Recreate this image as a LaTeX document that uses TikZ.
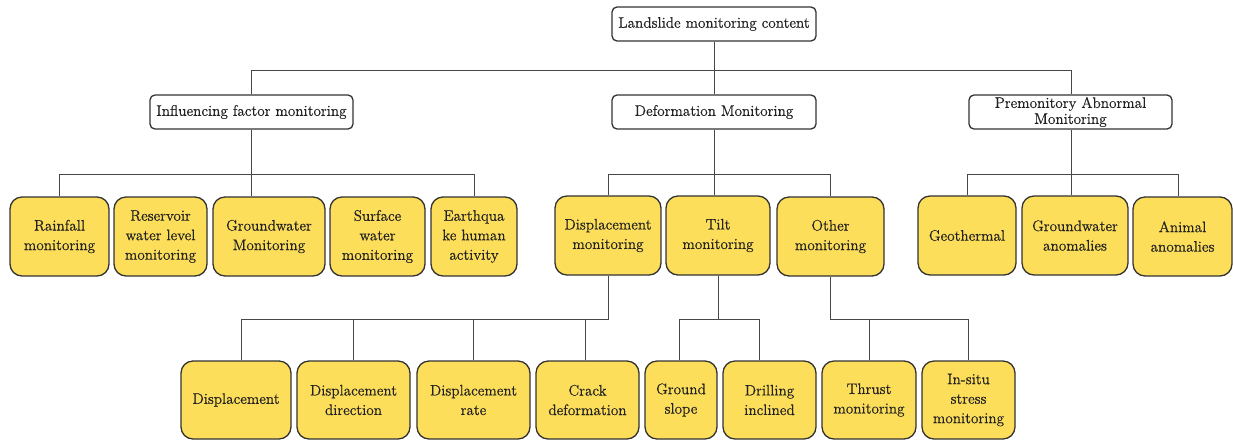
\documentclass[tikz,border=0pt]{standalone}
\usepackage{fontspec}
\newfontfamily\boxfont{lmroman12-regular.otf}[FakeBold=0.5]
\definecolor{yfill}{HTML}{FDDE5A}
\definecolor{bord}{HTML}{333333}
\definecolor{conncol}{HTML}{474747}
\definecolor{txt}{HTML}{222222}
\tikzset{
  basebox/.style={draw=bord, line width=1.3pt, align=center, inner sep=0pt, text=txt,
    font=\boxfont\fontsize{15.2}{19.5}\selectfont},
  wbox/.style={basebox, fill=white, rounded corners=5pt},
  ybox/.style={basebox, fill=yfill, rounded corners=12pt},
  link/.style={draw=conncol, line width=1.7pt}
}
\newcommand\bx[7]{%
  \node[#1, minimum width={#5-#3}, minimum height={#6-#4}] (#2) at ({(#3+#5)/2},{(#4+#6)/2}) {#7};}
\begin{document}
\begin{tikzpicture}[x=1pt,y=-1pt]
\useasboundingbox (0,0) rectangle (1233,440);
% level 0 and 1
\bx{wbox}{root}{612}{7}{816}{41}{Landslide monitoring content}
\bx{wbox}{inf}{150}{95}{353}{129}{Influencing factor monitoring}
\bx{wbox}{def}{612}{95}{816}{129}{Deformation Monitoring}
\bx{wbox,font=\boxfont\fontsize{15.2}{16}\selectfont}{pre}{969}{95}{1172}{129}{Premonitory Abnormal\\Monitoring}
% level 2
\bx{ybox}{rain}{10}{197}{109}{276}{Rainfall\\monitoring}
\bx{ybox}{res}{114}{197}{207}{276}{Reservoir\\water level\\monitoring}
\bx{ybox}{gw}{213}{197}{325}{276}{Groundwater\\Monitoring}
\bx{ybox}{surf}{330}{197}{425}{276}{Surface\\water\\monitoring}
\bx{ybox}{eq}{431}{197}{517}{276}{Earthqua\\ke human\\activity}
\bx{ybox}{dm}{555}{196}{661}{275}{Displacement\\monitoring}
\bx{ybox}{tilt}{666}{196}{770}{275}{Tilt\\monitoring}
\bx{ybox}{oth}{777}{197}{884}{276}{Other\\monitoring}
\bx{ybox}{geo}{918}{196}{1016}{275}{Geothermal}
\bx{ybox}{gwa}{1022}{196}{1128}{275}{Groundwater\\anomalies}
\bx{ybox}{ani}{1133}{197}{1232}{276}{Animal\\anomalies}
% level 3
\bx{ybox}{disp}{181}{361}{291}{439}{Displacement}
\bx{ybox}{dir}{297}{361}{410}{439}{Displacement\\direction}
\bx{ybox}{rate}{417}{361}{530}{439}{Displacement\\rate}
\bx{ybox}{crack}{536}{361}{639}{439}{Crack\\deformation}
\bx{ybox}{gs}{645}{361}{717}{439}{Ground\\slope}
\bx{ybox}{drill}{723}{361}{816}{439}{Drilling\\inclined}
\bx{ybox}{thr}{822}{361}{916}{439}{Thrust\\monitoring}
\bx{ybox}{ins}{922}{361}{1015}{439}{In-situ\\stress\\monitoring}
% helper coordinates (pixel-centred)
\coordinate (y1) at (0,70.5);
\coordinate (y2) at (0,174.5);
\coordinate (y3) at (0,319.5);
\coordinate (xA) at (251.5,0);
\coordinate (xB) at (714.5,0);
\coordinate (xC) at (1071.5,0);
\coordinate (xRain) at (59.5,0);
\coordinate (xEq) at (474.5,0);
\coordinate (xDm) at (608.5,0);
\coordinate (xOth) at (830.5,0);
\coordinate (xGeo) at (967.5,0);
\coordinate (xAni) at (1178.5,0);
\coordinate (xDisp) at (241.5,0);
\coordinate (xDir) at (353.5,0);
\coordinate (xRate) at (473.5,0);
\coordinate (xCrack) at (585.5,0);
\coordinate (xTilt) at (718.5,0);
\coordinate (xGs) at (679.5,0);
\coordinate (xDr) at (759.5,0);
\coordinate (xThr) at (869.5,0);
\coordinate (xIns) at (968.5,0);
% connectors level 0-1
\draw[link] (root.south -| xB) -- (def.north -| xB);
\draw[link] (inf.north -| xA) |- (y1 -| xB) -| (pre.north -| xC);
% influencing
\draw[link] (inf.south -| xA) -- (gw.north -| xA);
\draw[link] (rain.north -| xRain) |- (y2 -| xEq) -- (eq.north -| xEq);
% deformation
\draw[link] (def.south -| xB) -- (tilt.north -| xB);
\draw[link] (dm.north -| xDm) |- (y2 -| xOth) -- (oth.north -| xOth);
% premonitory
\draw[link] (pre.south -| xC) -- (gwa.north -| xC);
\draw[link] (geo.north -| xGeo) |- (y2 -| xAni) -- (ani.north -| xAni);
% displacement children
\draw[link] (dm.south -| xDm) |- (y3 -| xDisp) -- (disp.north -| xDisp);
\draw[link] (dir.north -| xDir) -- (y3 -| xDir);
\draw[link] (rate.north -| xRate) -- (y3 -| xRate);
\draw[link] (crack.north -| xCrack) -- (y3 -| xCrack);
% tilt children
\draw[link] (tilt.south -| xTilt) -- (y3 -| xTilt);
\draw[link] (gs.north -| xGs) |- (y3 -| xDr) -- (drill.north -| xDr);
% other children
\draw[link] (oth.south -| xOth) |- (y3 -| xIns) -- (ins.north -| xIns);
\draw[link] (thr.north -| xThr) -- (y3 -| xThr);
\end{tikzpicture}
\end{document}
